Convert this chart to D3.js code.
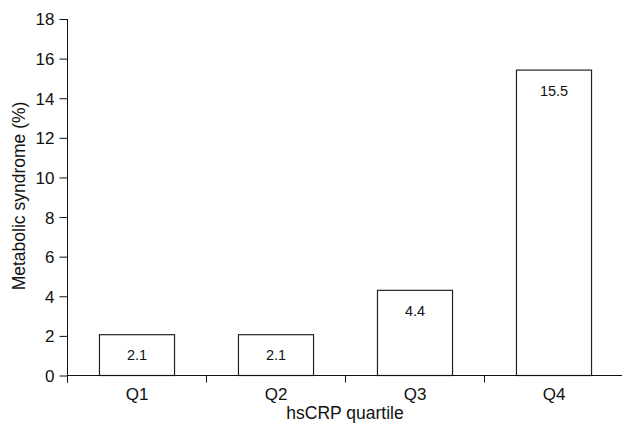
<!DOCTYPE html>
<html><head><meta charset="utf-8">
<script src="https://cdn.jsdelivr.net/npm/d3@7"></script>
<style>body{margin:0;background:#fff}svg{display:block}text{font-family:Arial,"Liberation Sans",sans-serif;fill:#111}</style>
</head><body><svg id="c" width="622" height="423"></svg>
<script>
const categories = ["Q1","Q2","Q3","Q4"];
const values = [2.06, 2.06, 4.3, 15.42];
const valueLabels = ["2.1","2.1","4.4","15.5"];
const yTicks = [0,2,4,6,8,10,12,14,16,18];

const svg = d3.select("#c");
const x0 = 67.5, x1 = 623.5, yTop = 19, yBot = 375.5;
const x = d3.scaleBand().domain(categories).range([x0, x1]).paddingInner(0.46).paddingOuter(0.23);
const y = d3.scaleLinear().domain([0,18]).range([yBot, yTop]);

// bars
svg.selectAll("rect.bar").data(categories).join("rect")
  .attr("x", d => x(d)).attr("width", x.bandwidth())
  .attr("y", (d,i) => y(values[i])).attr("height", (d,i) => y(0) - y(values[i]))
  .attr("fill", "#fff").attr("stroke", "#222").attr("stroke-width", 1.2);

svg.selectAll("text.val").data(categories).join("text")
  .attr("x", d => x(d) + x.bandwidth()/2)
  .attr("y", (d,i) => y(values[i]) + 25.5)
  .attr("text-anchor", "middle").attr("font-size", 14.5)
  .text((d,i) => valueLabels[i]);

// y axis
const ya = svg.append("g").attr("transform", `translate(${x0},0)`)
  .call(d3.axisLeft(y).tickValues(yTicks).tickSize(8).tickPadding(5));
ya.select(".domain").attr("d", `M0,${yTop}V${yBot+7}`).attr("stroke","#111");
ya.selectAll(".tick line").attr("stroke","#111");
ya.selectAll("text").attr("font-size", 17).attr("dy","0.35em").style("font-family","Arial, 'Liberation Sans', sans-serif").style("fill","#111");

// x axis
const xs = d3.scaleLinear().domain([0,4]).range([x0, x1]);
const xa = svg.append("g").attr("transform", `translate(0,${yBot})`);
xa.append("line").attr("x1", x0).attr("x2", x1).attr("stroke", "#111");
xa.selectAll("line.t").data([0,1,2,3]).join("line")
  .attr("x1", d => xs(d)).attr("x2", d => xs(d)).attr("y1", 0).attr("y2", 7).attr("stroke","#111");
xa.selectAll("text").data(categories).join("text")
  .attr("x", d => x(d) + x.bandwidth()/2).attr("y", 24)
  .attr("text-anchor","middle").attr("font-size", 17).text(d => d);

svg.append("text").attr("x", 345).attr("y", 418.5).attr("text-anchor","middle")
  .attr("font-size", 17.5).text("hsCRP quartile");
svg.append("text").attr("transform", "translate(25,196) rotate(-90)").attr("text-anchor","middle")
  .attr("font-size", 17.5).text("Metabolic syndrome (%)");
</script></body></html>
